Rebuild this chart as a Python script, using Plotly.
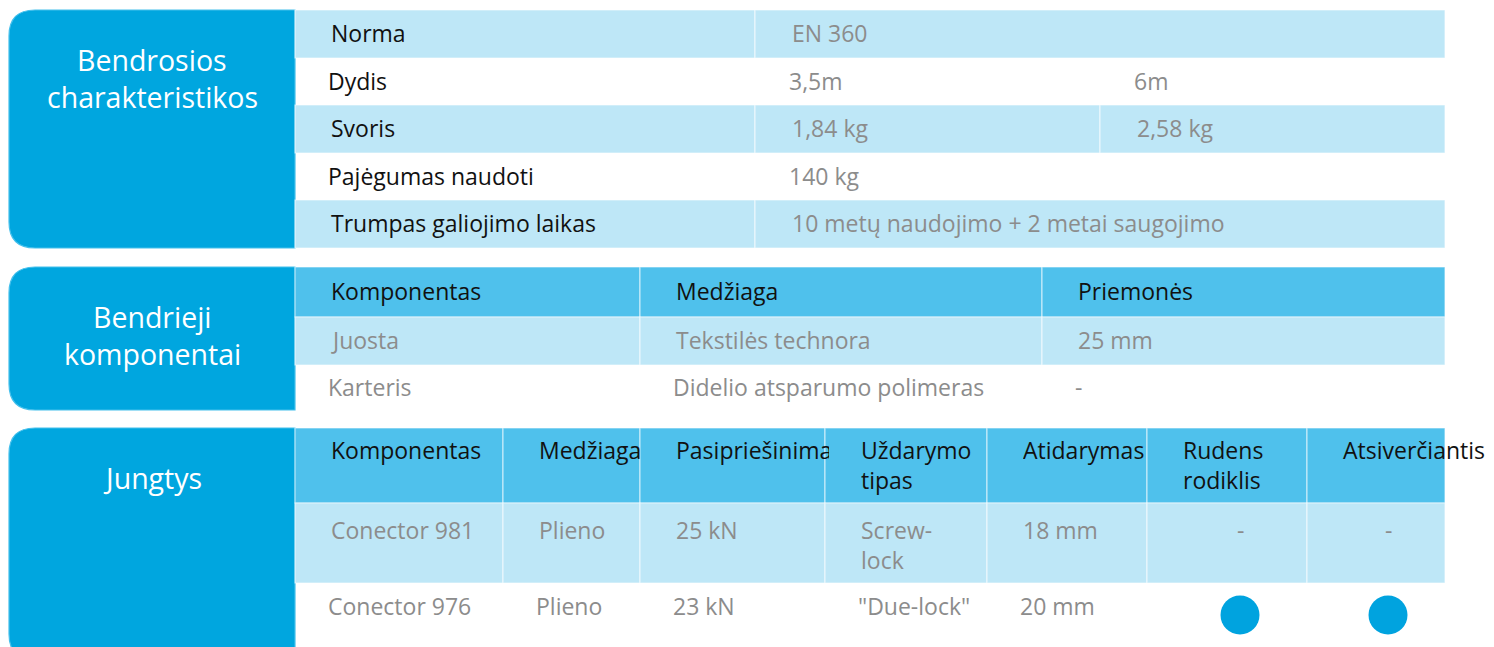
import plotly.graph_objects as go

# ---------------- data ----------------
s1_title = ["Bendrosios", "charakteristikos"]
s1_labels = ["Norma", "Dydis", "Svoris", "Pajėgumas naudoti", "Trumpas galiojimo laikas"]
s1_values = [["EN 360"], ["3,5m", "6m"], ["1,84 kg", "2,58 kg"], ["140 kg"],
             ["10 metų naudojimo + 2 metai saugojimo"]]

s2_title = ["Bendrieji", "komponentai"]
s2_header = ["Komponentas", "Medžiaga", "Priemonės"]
s2_rows = [["Juosta", "Tekstilės technora", "25 mm"],
           ["Karteris", "Didelio atsparumo polimeras", "-"]]

s3_title = ["Jungtys"]
s3_header = ["Komponentas", "Medžiaga", "Pasipriešinimas", "Uždarymo<br>tipas",
             "Atidarymas", "Rudens<br>rodiklis", "Atsiverčiantis"]
s3_rows = [["Conector 981", "Plieno", "25 kN", "Screw-<br>lock", "18 mm", "-", "-"],
           ["Conector 976", "Plieno", "23 kN", "\"Due-lock\"", "20 mm", None, None]]
s3_dot_rows = [1]            # rows where the indicator columns show a dot
s3_dot_cols = [5, 6]

# ---------------- style / layout ----------------
W, H = 1494, 647
BOX = "#00A6DF"
BOX_LINE = "#45C0EC"
BAND = "#BEE7F7"
HEAD = "#4FC1EC"
CELL_LINE = "rgba(255,255,255,0.6)"
DARK = "#111111"
GRAY = "#8C8C8C"
FONT = "Open Sans"
FS = 23

BX0, TX0, TX1 = 9, 295, 1445

s1_rows_y = [10, 58, 105, 153, 200, 248]
s1_split = [755, 1100]
s2_y = [267, 317, 365, 410]
s2_cols = [295, 640, 1042, 1445]
s3_y = [428, 503, 583, 660]
s3_cols = [295, 503, 640, 825, 987, 1147, 1307, 1445]
s3_ind_x = [1240, 1388]

shapes, annots = [], []


def rounded_left(x0, y0, x1, y1, r=26):
    return (f"M {x1},{y0} L {x0+r},{y0} Q {x0},{y0} {x0},{y0+r} "
            f"L {x0},{y1-r} Q {x0},{y1} {x0+r},{y1} L {x1},{y1} Z")


def box(y0, y1, lines):
    shapes.append(dict(type="path", path=rounded_left(BX0, y0, TX0, y1), xref="x", yref="y",
                       fillcolor=BOX, line=dict(color=BOX_LINE, width=1.2), layer="below"))
    for i, t in enumerate(lines):
        annots.append(dict(x=(BX0 + TX0) / 2, y=y0 + 50 + i * 36.5, text=t, showarrow=False,
                           xanchor="center", yanchor="middle",
                           font=dict(family="Open Sans", size=28.5, color="white")))


def cell(x0, y0, x1, y1, color):
    shapes.append(dict(type="rect", x0=x0, x1=x1, y0=y0, y1=y1, xref="x", yref="y",
                       fillcolor=color, line=dict(color=CELL_LINE, width=1.2), layer="below"))


def text(x, y, t, color, anchor="middle", xanchor="left", width=None):
    a = dict(x=x, y=y, text=t, showarrow=False, xanchor=xanchor, yanchor=anchor,
             align="left", font=dict(family=FONT, size=FS, color=color))
    if width is not None:
        a["width"] = width
    annots.append(a)


# ---- section 1
box(s1_rows_y[0], s1_rows_y[-1], s1_title)
for i, lab in enumerate(s1_labels):
    y0, y1 = s1_rows_y[i], s1_rows_y[i + 1]
    band = i % 2 == 0
    off = 34 if band else 31
    vals = s1_values[i]
    edges = [TX0, s1_split[0], s1_split[1], TX1] if len(vals) == 2 else [TX0, s1_split[0], TX1]
    if band:
        for a, b in zip(edges[:-1], edges[1:]):
            cell(a, y0, b, y1, BAND)
    ym = (y0 + y1) / 2 - 1
    text(TX0 + off, ym, lab, DARK)
    for j, v in enumerate(vals):
        text(edges[j + 1] + off + 1, ym, v, GRAY)

# ---- section 2
box(s2_y[0], s2_y[-1], s2_title)
for j, h in enumerate(s2_header):
    cell(s2_cols[j], s2_y[0], s2_cols[j + 1], s2_y[1], HEAD)
    text(s2_cols[j] + 34, (s2_y[0] + s2_y[1]) / 2 - 1, h, DARK)
for i, row in enumerate(s2_rows):
    y0, y1 = s2_y[i + 1], s2_y[i + 2]
    band = i % 2 == 0
    off = 34 if band else 31
    for j, v in enumerate(row):
        if band:
            cell(s2_cols[j], y0, s2_cols[j + 1], y1, BAND)
        text(s2_cols[j] + off, (y0 + y1) / 2 - 1, v, GRAY)

# ---- section 3
box(s3_y[0], s3_y[-1], s3_title)
for j, h in enumerate(s3_header):
    cell(s3_cols[j], s3_y[0], s3_cols[j + 1], s3_y[1], HEAD)
    wd = (s3_cols[j + 1] - s3_cols[j] - 34 + 2) if j < len(s3_header) - 1 else None
    text(s3_cols[j] + 34, s3_y[0] + 4, h, DARK, anchor="top", width=wd)
for i, row in enumerate(s3_rows):
    y0, y1 = s3_y[i + 1], s3_y[i + 2]
    band = i % 2 == 0
    off = 34 if band else 31
    for j, v in enumerate(row):
        if band:
            cell(s3_cols[j], y0, s3_cols[j + 1], y1, BAND)
        if v is None:
            continue
        if j in s3_dot_cols:
            text(s3_ind_x[s3_dot_cols.index(j)], y0 + 9, v, GRAY, anchor="top", xanchor="center")
        else:
            text(s3_cols[j] + off, y0 + (9 if band else 5), v, GRAY, anchor="top")

dot_x, dot_y = [], []
for i in s3_dot_rows:
    for j in s3_dot_cols:
        dot_x.append(s3_ind_x[s3_dot_cols.index(j)])
        dot_y.append(s3_y[i + 1] + 32)

fig = go.Figure()
fig.add_trace(go.Scatter(x=dot_x, y=dot_y, mode="markers", hoverinfo="skip",
                         marker=dict(size=39, color="#00A3DF", line=dict(width=0))))

fig.update_layout(
    width=W, height=H, margin=dict(l=0, r=0, t=0, b=0),
    paper_bgcolor="white", plot_bgcolor="white", showlegend=False,
    xaxis=dict(range=[0, W], visible=False, fixedrange=True),
    yaxis=dict(range=[H, 0], visible=False, fixedrange=True),
    shapes=shapes, annotations=annots,
)
fig.write_html("out.html", config={"displayModeBar": False},
               post_script="document.body.style.margin='0';document.body.style.overflow='hidden';")
